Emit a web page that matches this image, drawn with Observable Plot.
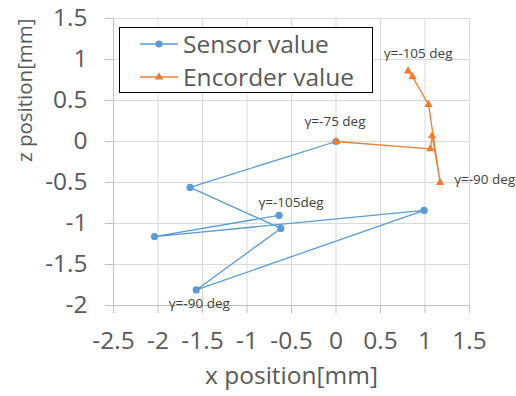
<!DOCTYPE html>
<html>
<head>
<meta charset="utf-8">
<script src="https://cdn.jsdelivr.net/npm/d3@7"></script>
<script src="https://cdn.jsdelivr.net/npm/@observablehq/plot@0.6"></script>
<style>
  html, body { margin: 0; padding: 0; background: #fff; }
  #wrap { position: relative; width: 516px; height: 396px; font-family: "Open Sans", sans-serif; }
  #legend { position: absolute; left: 119px; top: 27px; width: 252px; height: 64px; border: 1.4px solid #000; background: #fff; }
  .row { position: absolute; left: 0; height: 30px; display: flex; align-items: center; }
  .row svg { margin-left: 20px; flex: none; }
  .row span { margin-left: 5px; font-size: 24.5px; line-height: 30px; color: #595959; white-space: nowrap; }
</style>
</head>
<body>
<div id="wrap"></div>
<script>
// ---- data ----
const seriesNames = ["Sensor value", "Encorder value"];
const seriesColors = ["#5B9BD5", "#ED7D31"];
const sensorX = [-0.64, -2.04, 0.99, -1.57, -0.62, -1.64, 0];
const sensorZ = [-0.90, -1.16, -0.84, -1.81, -1.06, -0.56, 0];
const encoderX = [0.81, 0.86, 1.04, 1.17, 1.08, 1.06, 0];
const encoderZ = [0.86, 0.79, 0.45, -0.50, 0.07, -0.09, 0];
const xTicks = [-2.5, -2, -1.5, -1, -0.5, 0, 0.5, 1, 1.5];
const zTicks = [-2, -1.5, -1, -0.5, 0, 0.5, 1, 1.5];
const annotationSeries = ["encoder", "encoder", "sensor", "sensor", "sensor"];
const annotationIndex = [0, 3, 0, 3, 6];
const annotationText = ["γ=-105 deg", "γ=-90 deg", "γ=-105deg", "γ=-90 deg", "γ=-75 deg"];

const sensor = sensorX.map((x, i) => ({x, z: sensorZ[i]}));
const encoder = encoderX.map((x, i) => ({x, z: encoderZ[i]}));
const seriesData = {sensor, encoder};

// label offsets (style)
const annStyle = [
  {dx: 10, dy: -17, textAnchor: "middle"},
  {dx: 14, dy: -3, textAnchor: "start"},
  {dx: 12, dy: -13, textAnchor: "middle"},
  {dx: 3, dy: 14, textAnchor: "middle"},
  {dx: -1, dy: -20, textAnchor: "middle"}
];

const annMarks = annotationText.map((t, k) =>
  Plot.text([seriesData[annotationSeries[k]][annotationIndex[k]]], {
    x: "x", y: "z", text: () => t,
    dx: annStyle[k].dx, dy: annStyle[k].dy, textAnchor: annStyle[k].textAnchor,
    fill: "#404040", fontSize: 13.5
  })
);

const axisGray = "#bfbfbf";
const textGray = "#595959";

const chart = Plot.plot({
  width: 516, height: 396,
  marginLeft: 113, marginRight: 47, marginTop: 18, marginBottom: 91,
  style: {fontFamily: "'Open Sans', sans-serif", background: "#fff", overflow: "visible"},
  x: {domain: [-2.5, 1.5]},
  y: {domain: [-2, 1.5]},
  marks: [
    Plot.gridX(xTicks, {stroke: "#d9d9d9", strokeOpacity: 1}),
    Plot.gridY(zTicks, {stroke: "#d9d9d9", strokeOpacity: 1}),
    Plot.ruleX([xTicks[0]], {stroke: axisGray}),
    Plot.ruleY([zTicks[0]], {stroke: axisGray}),
    Plot.axisX(xTicks, {tickSize: 8, tickPadding: 18, stroke: axisGray, fill: textGray, fontSize: 24.5, label: null, tickFormat: d => String(d)}),
    Plot.axisY(zTicks, {tickSize: 8, tickPadding: 18, stroke: axisGray, fill: textGray, fontSize: 24.5, label: null, tickFormat: d => String(d)}),
    Plot.text(["x position[mm]"], {frameAnchor: "bottom", dy: 78, fill: textGray, fontSize: 24.5}),
    Plot.text(["z position[mm]"], {frameAnchor: "left", dx: -88, rotate: -90, fill: textGray, fontSize: 20.5}),
    Plot.line(sensor, {x: "x", y: "z", stroke: seriesColors[0], strokeWidth: 1.3}),
    Plot.dot(sensor, {x: "x", y: "z", r: 3.6, fill: seriesColors[0], stroke: null}),
    Plot.line(encoder, {x: "x", y: "z", stroke: seriesColors[1], strokeWidth: 1.3}),
    Plot.dot(encoder, {x: "x", y: "z", symbol: "triangle", r: 3.1, fill: seriesColors[1], stroke: null}),
    ...annMarks
  ]
});

const wrap = document.getElementById("wrap");
wrap.appendChild(chart);

// legend
const legend = document.createElement("div");
legend.id = "legend";
seriesNames.forEach((name, i) => {
  const row = document.createElement("div");
  row.className = "row";
  row.style.top = (i === 0 ? 1 : 34) + "px";
  const sym = i === 0
    ? `<circle cx="19" cy="7" r="3.6" fill="${seriesColors[i]}"/>`
    : `<path d="${d3.symbol(d3.symbolTriangle, Math.PI * 3.1 * 3.1)()}" transform="translate(19,7)" fill="${seriesColors[i]}"/>`;
  row.innerHTML = `<svg width="38" height="14"><line x1="0" x2="38" y1="7" y2="7" stroke="${seriesColors[i]}" stroke-width="1.5"/>${sym}</svg><span>${name}</span>`;
  legend.appendChild(row);
});
wrap.appendChild(legend);
</script>
</body>
</html>
